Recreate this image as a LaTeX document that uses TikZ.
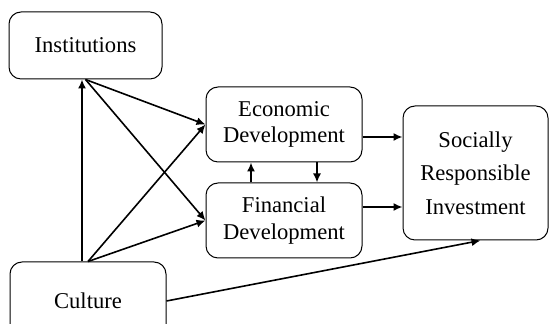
\documentclass[tikz,border=0pt]{standalone}
\usepackage{fontspec}
\setmainfont{Liberation Serif}
\usetikzlibrary{positioning,arrows.meta}

\begin{document}
\begin{tikzpicture}[->,>={Latex[length=4.5pt,width=4pt]},thick,x=0.5pt,y=-0.5pt,node distance=48pt,
    box/.style={draw,-,line width=0.5pt,rounded corners=6pt,align=center,
        minimum width=78pt,minimum height=37.5pt,inner sep=2pt,
        font=\fontsize{11.3}{13.3}\selectfont}]

                \useasboundingbox (0,0) rectangle (549,324);

                \node[box, minimum width=76.5pt, minimum height=33.5pt] (inst) at (85.5,45.5) {Institutions};
                \node[box] (econ) at (284,124.5) {Economic\\Development};
                \node[box] (fin) [below of = econ] {Financial\\Development};
                \node[box, minimum width=72.5pt, minimum height=67pt,
                    font=\fontsize{11.3}{16.7}\selectfont] (sri) at (475.5,173) {Socially\\Responsible\\Investment};
                \node[box, minimum height=39pt] (culture) at (88,301) {Culture};

                % culture up to institutions
                \draw ([xshift=-3pt]culture.north) -- ([xshift=-3pt]culture.north |- inst.south);

                \path
                    (inst.south) edge (econ.west)
                    (inst.south) edge (fin.west)
                    (culture.north) edge (econ.west)
                    (culture.north) edge (fin.west)
                    (culture.east) edge ([xshift=2.5pt]sri.south)
                    ([yshift=-6.25pt]econ.east) edge ([yshift=-6.25pt]econ.east -| sri.west)
                    ([yshift=6.75pt]fin.east) edge ([yshift=6.75pt]fin.east -| sri.west)
                ;

                % between the two developments
                \path
                    ([xshift=-16.5pt]fin.north) edge ([xshift=-16.5pt]econ.south)
                    ([xshift=16.5pt]econ.south) edge ([xshift=16.5pt]fin.north)
                ;

            \end{tikzpicture}
\end{document}
